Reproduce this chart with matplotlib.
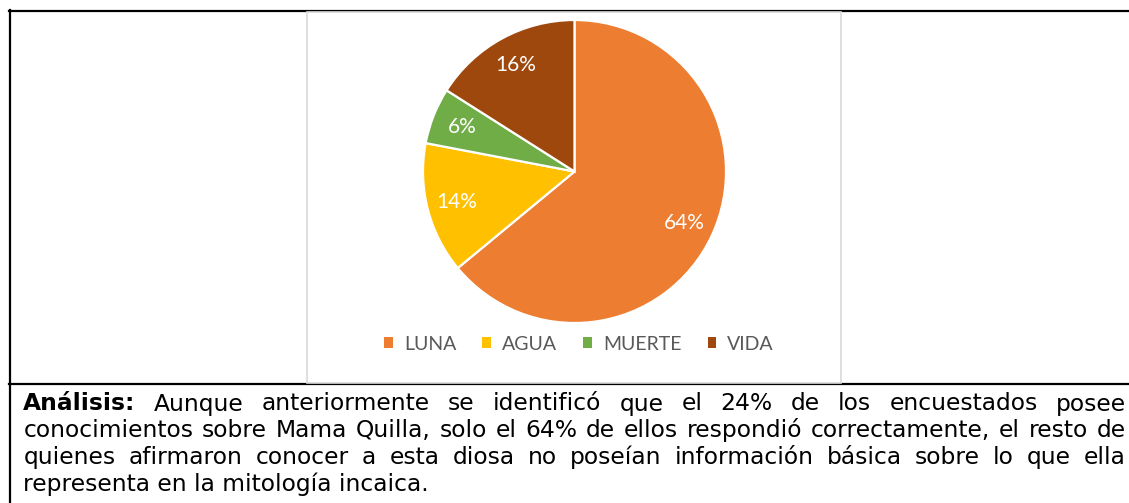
import matplotlib
matplotlib.use("Agg")
import matplotlib.pyplot as plt
from matplotlib.patches import Patch, Rectangle
from matplotlib.lines import Line2D

# data
categories = ["LUNA", "AGUA", "MUERTE", "VIDA"]
shares = [64, 14, 6, 16]
colors = ["#ED7D31", "#FFC000", "#70AD47", "#9E480E"]

lead = "Análisis:"
para_lines = [
    "Aunque anteriormente se identificó que el 24% de los encuestados posee",
    "conocimientos sobre Mama Quilla, solo el 64% de ellos respondió correctamente, el resto de",
    "quienes afirmaron conocer a esta diosa no poseían información básica sobre lo que ella",
    "representa en la mitología incaica.",
]

W, H = 1129, 503


def fx(x):
    return x / W


def fy(y):
    return 1 - y / H


fig = plt.figure(figsize=(W / 100, H / 100), dpi=100)
fig.patch.set_facecolor("white")

# table frame lines
for (x0, y0, x1, y1) in [(9, 11, W, 11), (9.5, 10, 9.5, H), (9, 384, W, 384)]:
    fig.add_artist(Line2D([fx(x0), fx(x1)], [fy(y0), fy(y1)], color="black",
                          linewidth=1.6, transform=fig.transFigure, zorder=-1))

# chart area box (kept behind the pie axes)
fig.add_artist(Rectangle((fx(307), fy(383)), fx(841) - fx(307), fy(12) - fy(383),
                         facecolor="white", edgecolor="#D9D9D9", linewidth=1.2,
                         transform=fig.transFigure, zorder=-1))

# pie
cx, cy, r = 574.5, 171.5, 151.5
ax = fig.add_axes([fx(cx - r), fy(cy + r), 2 * r / W, 2 * r / H])
ax.set_zorder(2)
wedges, _, autotexts = ax.pie(
    shares, colors=colors, startangle=90, counterclock=False,
    autopct="%1.0f%%", pctdistance=0.8,
    wedgeprops=dict(edgecolor="white", linewidth=1.6, clip_on=False),
    textprops=dict(color="white", fontsize=15, family="Lato"))
ax.set_xlim(-1, 1)
ax.set_ylim(-1, 1)
ax.axis("off")

handles = [Patch(facecolor=c, edgecolor="none") for c in colors]
fig.legend(handles, categories, loc="center", bbox_to_anchor=(fx(579), fy(344)),
           ncol=4, frameon=False, handlelength=0.45, handleheight=0.45,
           handletextpad=0.55, columnspacing=1.35,
           prop=dict(family="Lato", size=14), labelcolor="#595959")

# justified paragraph: first lines stretched to the right margin
renderer = fig.canvas.get_renderer()
left, right = 23.3, 1126
base = 410.5
step = 26.8
fsize = 16.8

for i, line in enumerate(para_lines):
    y = base + i * step
    if i == len(para_lines) - 1:
        fig.text(fx(left), fy(y), line, fontsize=fsize, family="DejaVu Sans",
                 va="baseline", ha="left")
        continue
    words = line.split()
    weights = ["normal"] * len(words)
    if i == 0:
        words = [lead] + words
        weights = ["bold"] + weights
    texts = [fig.text(0, fy(y), w, fontsize=fsize, family="DejaVu Sans",
                      fontweight=wt, va="baseline", ha="left")
             for w, wt in zip(words, weights)]
    widths = [t.get_window_extent(renderer).width for t in texts]
    gap = (right - left - sum(widths)) / (len(words) - 1)
    x = left
    for t, wd in zip(texts, widths):
        t.set_x(fx(x))
        x += wd + gap

fig.savefig("out.png", dpi=100)
